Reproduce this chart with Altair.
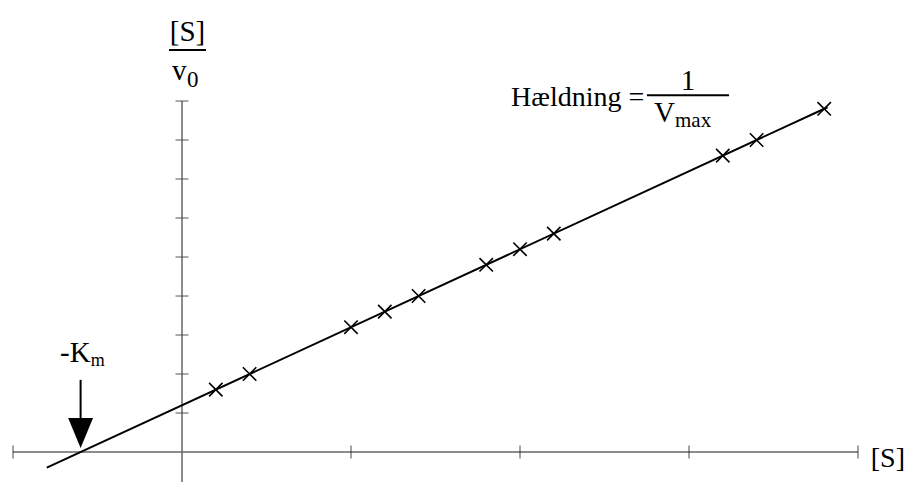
import altair as alt
import pandas as pd

# Data
pts_x = [0.2, 0.4, 1.0, 1.2, 1.4, 1.8, 2.0, 2.2, 3.2, 3.4, 3.8]
pts_y = [1.6, 2.0, 3.2, 3.6, 4.0, 4.8, 5.2, 5.6, 7.6, 8.0, 8.8]
line_x = [-0.8, 3.82]
line_y = [-0.4, 8.84]
x_ticks = [-1, 1, 2, 3, 4]
y_ticks = [1, 2, 3, 4, 5, 6, 7, 8, 9]
x_axis_span = [-1, 4]
y_axis_span = [-0.8, 9]
km_x = -0.6
arrow_shaft = [0.87, 1.85]
arrow_head_y = 0.49

FONT = "Liberation Serif"
X = alt.Scale(domain=[-1.0296, 4.284], nice=False, zero=False)
Y = alt.Scale(domain=[-0.769, 11.385], nice=False, zero=False)

def xe(f="x"):
    return alt.X(f + ":Q", scale=X, axis=None)

def ye(f="y"):
    return alt.Y(f + ":Q", scale=Y, axis=None)

# axes
xaxis = alt.Chart(pd.DataFrame({"x": [x_axis_span[0]], "x2": [x_axis_span[1]], "y": [0]})).mark_rule(
    color="#666", strokeWidth=1.5).encode(x=xe(), x2="x2:Q", y=ye())
yaxis = alt.Chart(pd.DataFrame({"y": [y_axis_span[0]], "y2": [y_axis_span[1]], "x": [0]})).mark_rule(
    color="#666", strokeWidth=1.5).encode(x=xe(), y=ye(), y2="y2:Q")
xt = alt.Chart(pd.DataFrame({"x": x_ticks, "y": [0] * len(x_ticks)})).mark_tick(
    orient="vertical", size=13, thickness=1.2, color="#222").encode(x=xe(), y=ye())
yt = alt.Chart(pd.DataFrame({"y": y_ticks, "x": [0] * len(y_ticks)})).mark_tick(
    orient="horizontal", size=13, thickness=1.3, color="#444").encode(x=xe(), y=ye())

# regression line
line = alt.Chart(pd.DataFrame({"x": line_x, "y": line_y})).mark_line(
    color="black", strokeWidth=2).encode(x=xe(), y=ye())

# data points (crosses)
pts = alt.Chart(pd.DataFrame({"x": pts_x, "y": pts_y})).mark_point(
    shape="M-1,-1L1,1M-1,1L1,-1", size=180, filled=False, strokeWidth=1.6,
    color="black", opacity=1).encode(x=xe(), y=ye())

# arrow for -Km
shaft = alt.Chart(pd.DataFrame({"x": [km_x], "y": [arrow_shaft[0]], "y2": [arrow_shaft[1]]})).mark_rule(
    color="black", strokeWidth=2).encode(x=xe(), y=ye(), y2="y2:Q")
head = alt.Chart(pd.DataFrame({"x": [km_x], "y": [arrow_head_y]})).mark_point(
    shape="M-0.83,-1L0.83,-1L0,1Z", size=900, filled=True, color="black",
    opacity=1, strokeWidth=0).encode(x=xe(), y=ye())

def txt(t, x, y, fs, align="left"):
    return alt.Chart(pd.DataFrame({"t": [t], "x": [x], "y": [y]})).mark_text(
        font=FONT, fontSize=fs, align=align, baseline="alphabetic", color="black"
    ).encode(x=xe(), y=ye(), text="t:N")

def bar(x1, x2, y):
    return alt.Chart(pd.DataFrame({"x": [x1], "x2": [x2], "y": [y]})).mark_rule(
        color="black", strokeWidth=2).encode(x=xe(), x2="x2:Q", y=ye())

labels = [
    txt("-K", -0.722, 2.31, 29),
    txt("m", -0.54, 2.2, 18),
    txt("[S]", 0.0325, 10.54, 29, "center"),
    bar(-0.077, 0.142, 10.31),
    txt("v", -0.059, 9.54, 29),
    txt("0", 0.03, 9.36, 23),
    txt("Hældning =", 1.947, 8.87, 28),
    bar(2.751, 3.237, 9.15),
    txt("1", 2.994, 9.28, 29, "center"),
    txt("V", 2.793, 8.46, 29),
    txt("max", 2.917, 8.33, 21),
    txt("[S]", 4.278, -0.385, 28, "right"),
]

chart = alt.layer(xaxis, yaxis, xt, yt, line, pts, shaft, head, *labels).properties(
    width=898, height=474, autosize=alt.AutoSizeParams(type="none"), padding=0
).configure_view(stroke=None)

chart.save("out.html", embed_options={"renderer": "svg", "actions": False})
